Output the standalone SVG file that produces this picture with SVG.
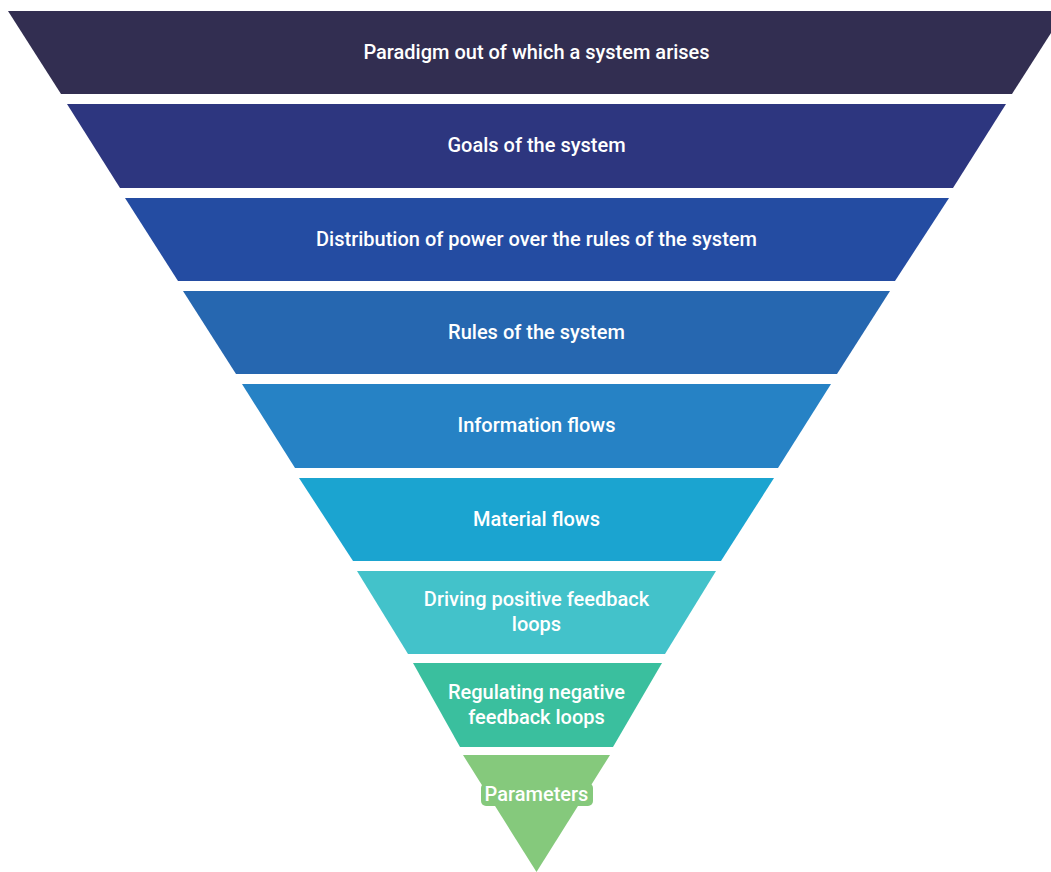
<svg xmlns="http://www.w3.org/2000/svg" width="1051" height="872" viewBox="0 0 1051 872">
<style>
.t{font-family:Roboto,"Liberation Sans",sans-serif;font-weight:500;font-size:20px;fill:#ffffff;text-anchor:middle}
</style>
<rect width="1051" height="872" fill="#ffffff"/>
<g id="level1"><polygon points="8,11 1065,11 1012,94 61,94" fill="#322e51"/><text class="t" x="536.5" y="59">Paradigm out of which a system arises</text></g>
<g id="level2"><polygon points="67,104 1006,104 953,188 120,188" fill="#2d367f"/><text class="t" x="536.5" y="152">Goals of the system</text></g>
<g id="level3"><polygon points="125,198 949,198 895,281 178,281" fill="#244ca2"/><text class="t" x="536.5" y="246">Distribution of power over the rules of the system</text></g>
<g id="level4"><polygon points="183,291 890,291 837,374 236,374" fill="#2667b0"/><text class="t" x="536.5" y="339">Rules of the system</text></g>
<g id="level5"><polygon points="242,384 831,384 778,468 295,468" fill="#2682c5"/><text class="t" x="536.5" y="432">Information flows</text></g>
<g id="level6"><polygon points="299,478 774,478 721,561 353,561" fill="#1ba4d0"/><text class="t" x="536.5" y="526">Material flows</text></g>
<g id="level7"><polygon points="357,571 716,571 665,654 408,654" fill="#43c2ca"/><text class="t" x="536.5" y="606">Driving positive feedback</text><text class="t" x="536.5" y="631">loops</text></g>
<g id="level8"><polygon points="413,663 662,663 613,747 460,747" fill="#3abf9e"/><text class="t" x="536.5" y="699">Regulating negative</text><text class="t" x="536.5" y="724">feedback loops</text></g>
<g id="level9"><polygon points="463,755 610,755 536.5,872" fill="#85c97c"/><rect x="481" y="783" width="112" height="23" rx="5" fill="#85c97c"/><text class="t" x="536.5" y="801">Parameters</text></g>
<g id="connectors"/>
</svg>
